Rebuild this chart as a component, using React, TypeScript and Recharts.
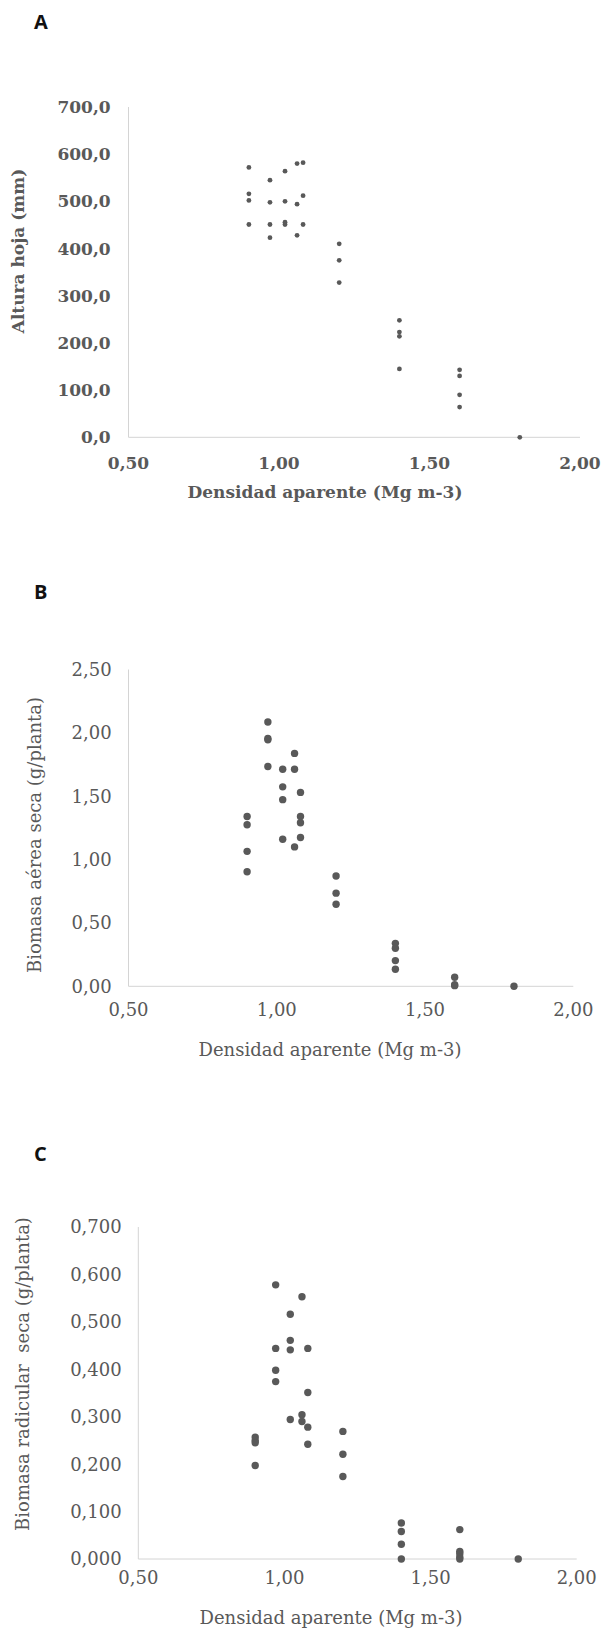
import React from 'react';
import { ScatterChart, Scatter, XAxis, YAxis } from 'recharts';

// ---- Shared x ticks ----
const xTicks = [0.5, 1.0, 1.5, 2.0];

// ---- Panel A: Altura hoja (mm) ----
const densityA = [
  0.9, 0.9, 0.9, 0.9,
  0.97, 0.97, 0.97, 0.97,
  1.02, 1.02, 1.02, 1.02,
  1.06, 1.06, 1.06,
  1.08, 1.08, 1.08,
  1.2, 1.2, 1.2,
  1.4, 1.4, 1.4, 1.4,
  1.6, 1.6, 1.6, 1.6,
  1.8,
];
const heightA = [
  572, 516, 502, 451,
  545, 498, 451, 423,
  564, 500, 456, 451,
  580, 494, 428,
  582, 512, 451,
  410, 375, 328,
  248, 223, 214, 145,
  143, 130, 90, 64,
  0,
];
const yTicksA = [0, 100, 200, 300, 400, 500, 600, 700];

// ---- Panel B: Biomasa aérea seca (g/planta) ----
const densityB = [
  0.9, 0.9, 0.9, 0.9,
  0.97, 0.97, 0.97, 0.97,
  1.02, 1.02, 1.02, 1.02,
  1.06, 1.06, 1.06,
  1.08, 1.08, 1.08, 1.08,
  1.2, 1.2, 1.2,
  1.4, 1.4, 1.4, 1.4,
  1.6, 1.6, 1.6,
  1.8,
];
const biomassB = [
  1.34, 1.275, 1.065, 0.904,
  2.086, 1.955, 1.945, 1.735,
  1.713, 1.574, 1.473, 1.16,
  1.838, 1.713, 1.1,
  1.53, 1.34, 1.291, 1.174,
  0.871, 0.735, 0.648,
  0.339, 0.3, 0.203, 0.134,
  0.071, 0.012, 0.005,
  0,
];
const yTicksB = [0, 0.5, 1.0, 1.5, 2.0, 2.5];

// ---- Panel C: Biomasa radicular seca (g/planta) ----
const densityC = [
  0.9, 0.9, 0.9, 0.9,
  0.97, 0.97, 0.97, 0.97,
  1.02, 1.02, 1.02, 1.02,
  1.06, 1.06, 1.06,
  1.08, 1.08, 1.08, 1.08,
  1.2, 1.2, 1.2,
  1.4, 1.4, 1.4, 1.4,
  1.6, 1.6, 1.6, 1.6, 1.6,
  1.8,
];
const rootC = [
  0.257, 0.25, 0.245, 0.197,
  0.578, 0.444, 0.398, 0.374,
  0.516, 0.461, 0.441, 0.294,
  0.553, 0.304, 0.29,
  0.444, 0.351, 0.278, 0.242,
  0.269, 0.221, 0.174,
  0.076, 0.058, 0.031, 0,
  0.062, 0.016, 0.011, 0.004, 0,
  0,
];
const yTicksC = [0, 0.1, 0.2, 0.3, 0.4, 0.5, 0.6, 0.7];

const toData = (xs: number[], ys: number[]) => xs.map((x, i) => ({ x, y: ys[i] }));

const GRAY = '#595959';
const AXIS = '#d4d4d4';
const SERIF = '"DejaVu Serif", serif';
const SANS = '"Open Sans", "Noto Sans", sans-serif';

const fmt = (d: number) => (v: number) => v.toFixed(d).replace('.', ',');

const dot = (r: number) => (props: any) => (
  <circle cx={props.cx} cy={props.cy} r={r} fill={GRAY} />
);

type PanelProps = {
  top: number;
  height: number;
  marginTop: number;
  marginRight: number;
  yAxisWidth: number;
  xAxisHeight: number;
  data: { x: number; y: number }[];
  yDomain: [number, number];
  yTicks: number[];
  yFmt: (v: number) => string;
  bold: boolean;
  fontSize: number;
  yTickGap: number;
  xTickGap: number;
  r: number;
};

function Panel(p: PanelProps) {
  const tickStyle = {
    fontFamily: SERIF,
    fontSize: p.fontSize,
    fontWeight: p.bold ? 'bold' : 'normal',
    fill: GRAY,
  } as any;
  return (
    <div style={{ position: 'absolute', left: 0, top: p.top }}>
      <ScatterChart
        width={605}
        height={p.height}
        margin={{ top: p.marginTop, right: p.marginRight, bottom: 0, left: 0 }}
      >
        <XAxis
          type="number"
          dataKey="x"
          domain={[0.5, 2]}
          ticks={xTicks}
          tickFormatter={fmt(2)}
          axisLine={{ stroke: AXIS, strokeWidth: 1 }}
          tickLine={false}
          tickSize={0}
          tickMargin={p.xTickGap}
          height={p.xAxisHeight}
          tick={tickStyle}
          interval={0}
          allowDataOverflow
        />
        <YAxis
          type="number"
          dataKey="y"
          domain={p.yDomain}
          ticks={p.yTicks}
          tickFormatter={p.yFmt}
          axisLine={{ stroke: AXIS, strokeWidth: 1 }}
          tickLine={false}
          tickSize={0}
          tickMargin={p.yTickGap}
          width={p.yAxisWidth}
          tick={tickStyle}
          interval={0}
        />
        <Scatter data={p.data} fill={GRAY} shape={dot(p.r)} isAnimationActive={false} />
      </ScatterChart>
    </div>
  );
}

export default function App() {
  return (
    <div
      style={{
        position: 'absolute',
        left: 0,
        top: 0,
        width: 605,
        height: 1629,
        background: '#ffffff',
        overflow: 'hidden',
      }}
    >
      <Panel
        top={0}
        height={520}
        marginTop={107}
        marginRight={25}
        yAxisWidth={128.5}
        xAxisHeight={82.7}
        data={toData(densityA, heightA)}
        yDomain={[0, 700]}
        yTicks={yTicksA}
        yFmt={fmt(1)}
        bold
        fontSize={17}
        yTickGap={17.8}
        xTickGap={20}
        r={2.4}
      />
      <Panel
        top={560}
        height={500}
        marginTop={109.5}
        marginRight={31.7}
        yAxisWidth={128.5}
        xAxisHeight={73.7}
        data={toData(densityB, biomassB)}
        yDomain={[0, 2.5]}
        yTicks={yTicksB}
        yFmt={fmt(2)}
        bold={false}
        fontSize={18}
        yTickGap={16.8}
        xTickGap={17.3}
        r={3.7}
      />
      <Panel
        top={1120}
        height={509}
        marginTop={107}
        marginRight={28.3}
        yAxisWidth={138.3}
        xAxisHeight={70}
        data={toData(densityC, rootC)}
        yDomain={[0, 0.7]}
        yTicks={yTicksC}
        yFmt={fmt(3)}
        bold={false}
        fontSize={18}
        yTickGap={16.6}
        xTickGap={12}
        r={3.7}
      />
      <svg
        width={605}
        height={1629}
        style={{ position: 'absolute', left: 0, top: 0, pointerEvents: 'none' }}
      >
        <g fontFamily={SANS} fontWeight="bold" fontSize={20} fill="#111111">
          <text x={34} y={21.5} dominantBaseline="central">A</text>
          <text x={34} y={591} dominantBaseline="central">B</text>
          <text x={34} y={1153} dominantBaseline="central">C</text>
        </g>
        <g fontFamily={SERIF} fill={GRAY} textAnchor="middle">
          <text x={325} y={492} fontSize={17} fontWeight="bold" dominantBaseline="central">
            Densidad aparente (Mg m-3)
          </text>
          <text
            x={0}
            y={0}
            fontSize={17}
            fontWeight="bold"
            dominantBaseline="central"
            transform="translate(18.2 251) rotate(-90)"
          >
            Altura hoja (mm)
          </text>
          <text x={330} y={1049} fontSize={18} dominantBaseline="central">
            Densidad aparente (Mg m-3)
          </text>
          <text
            x={0}
            y={0}
            fontSize={18}
            dominantBaseline="central"
            transform="translate(34 835) rotate(-90)"
          >
            Biomasa aérea seca (g/planta)
          </text>
          <text x={331} y={1617} fontSize={18} dominantBaseline="central">
            Densidad aparente (Mg m-3)
          </text>
          <text
            x={0}
            y={0}
            fontSize={18}
            dominantBaseline="central"
            style={{ whiteSpace: 'pre' }}
            transform="translate(22.5 1374) rotate(-90)"
          >
            {'Biomasa radicular  seca (g/planta)'}
          </text>
        </g>
      </svg>
    </div>
  );
}
